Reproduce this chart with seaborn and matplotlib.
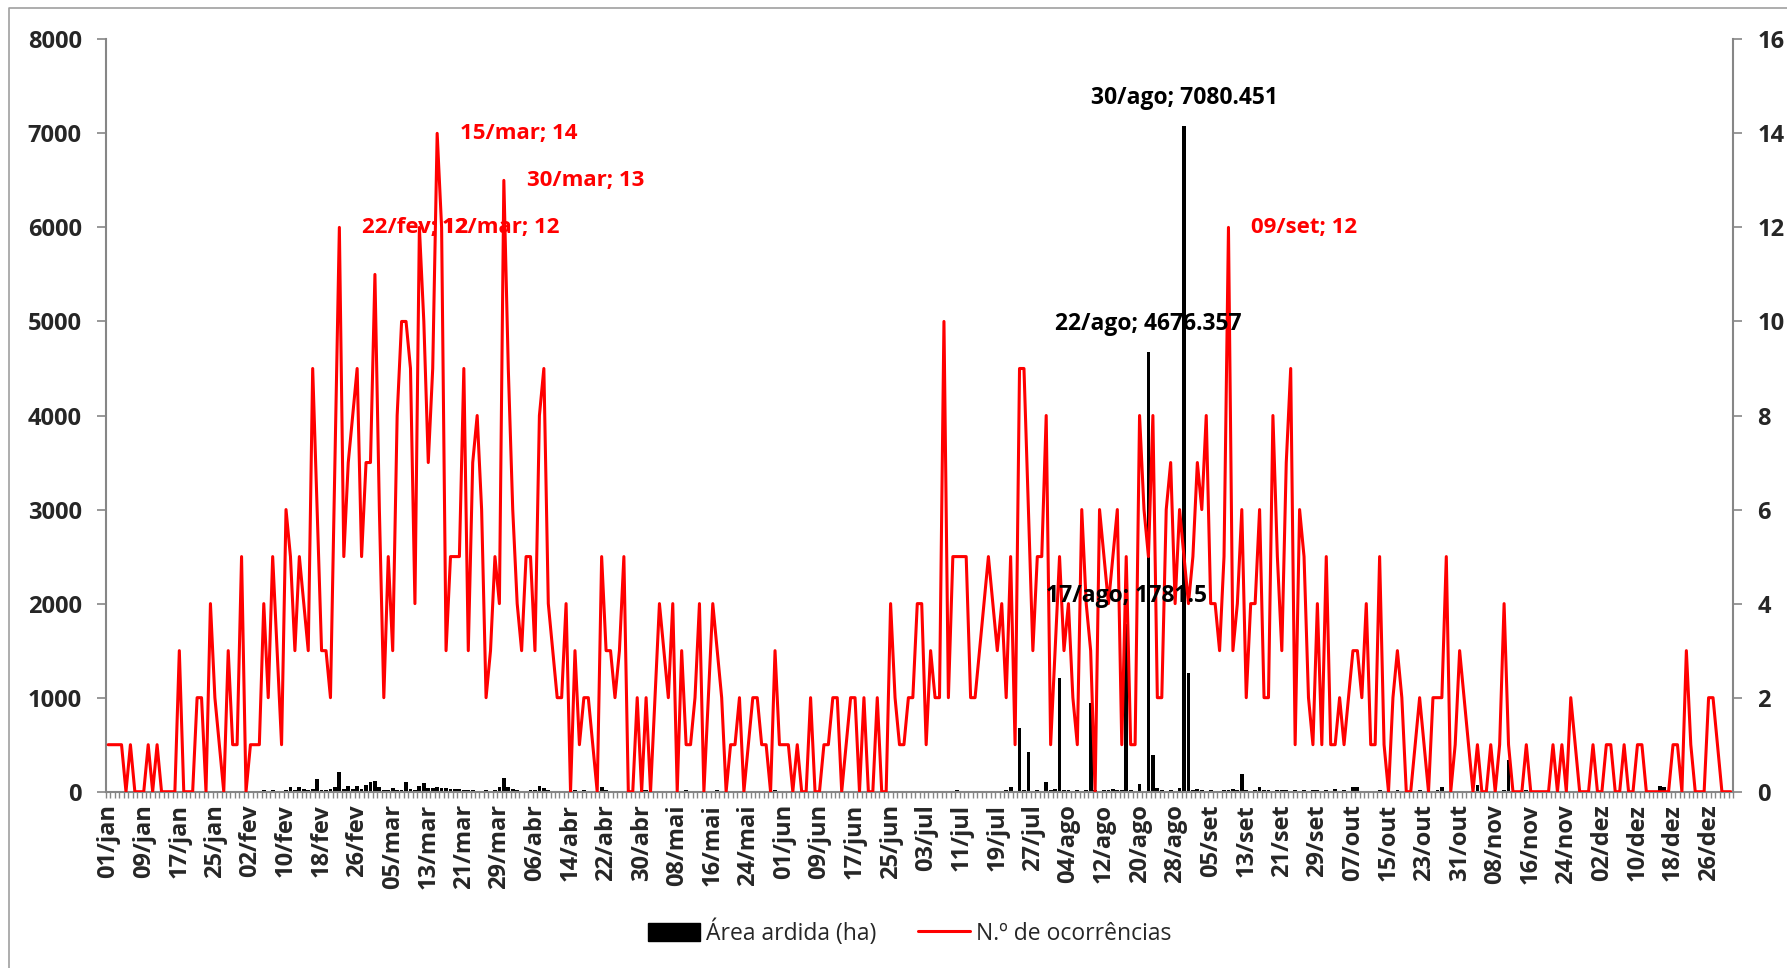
import numpy as np
import pandas as pd
import seaborn as sns
import matplotlib.pyplot as plt
from matplotlib.patches import Patch
from matplotlib.lines import Line2D

### --- Data --- ###
meses = ['jan', 'fev', 'mar', 'abr', 'mai', 'jun', 'jul', 'ago', 'set', 'out', 'nov', 'dez']
dias_mes = [31, 29, 31, 30, 31, 30, 31, 31, 30, 31, 30, 31]

# Área ardida (ha) per day
area_jan = [10, 5, 8, 10, 0, 5, 12, 8, 0, 5, 10, 0, 8, 5, 0, 0, 5, 0, 5, 0, 10, 5, 0, 8, 10, 5, 0, 10, 5, 5, 10]
area_fev = [10, 8, 10, 5, 15, 10, 15, 10, 10, 15, 55, 20, 45, 25, 20, 25, 140, 20, 15, 25, 45, 210, 25, 60, 30, 65, 30, 75, 105]
area_mar = [110, 55, 15, 20, 40, 15, 20, 105, 30, 15, 60, 90, 40, 35, 45, 40, 35, 25, 30, 25, 20, 20, 15, 10, 10, 15, 10, 20, 45, 150, 55]
area_abr = [25, 15, 10, 10, 15, 20, 65, 35, 20, 10, 10, 5, 10, 5, 15, 10, 20, 10, 5, 10, 50, 15, 10, 10, 8, 10, 5, 5, 10, 15]
area_mai = [15, 10, 8, 10, 5, 10, 8, 5, 10, 15, 10, 8, 10, 5, 8, 10, 15, 10, 8, 5, 10, 8, 5, 10, 8, 5, 10, 8, 5, 15, 10]
area_jun = [10, 5, 8, 5, 10, 8, 5, 10, 8, 5, 10, 5, 8, 10, 5, 8, 10, 12, 8, 5, 10, 8, 5, 10, 8, 5, 10, 8, 12, 10]
area_jul = [10, 8, 10, 5, 8, 10, 8, 5, 10, 20, 8, 5, 10, 8, 5, 10, 8, 10, 12, 8, 15, 55, 10, 680, 15, 420, 10, 15, 12, 100, 15]
area_ago = [30, 1210, 20, 15, 10, 15, 10, 20, 945, 15, 10, 15, 20, 30, 15, 20, 1781.5, 15, 10, 80, 10, 4676.357, 390, 35, 15, 10, 15, 10, 40, 7080.451, 1265]
area_set = [20, 25, 15, 10, 15, 10, 10, 15, 20, 25, 15, 185, 15, 10, 15, 45, 20, 15, 10, 15, 20, 15, 10, 15, 10, 15, 10, 20, 15, 10]
area_out = [15, 10, 25, 10, 15, 10, 55, 50, 10, 8, 5, 10, 15, 10, 8, 10, 15, 10, 5, 8, 10, 15, 10, 5, 10, 15, 50, 10, 5, 10, 8]
area_nov = [10, 5, 8, 70, 10, 5, 10, 8, 10, 15, 340, 10, 5, 8, 15, 10, 5, 8, 5, 10, 8, 5, 10, 5, 8, 10, 5, 8, 10, 5]
area_dez = [8, 5, 10, 5, 8, 10, 5, 8, 5, 10, 8, 5, 10, 8, 60, 55, 10, 5, 8, 5, 10, 8, 5, 10, 8, 5, 10, 8, 5, 8, 5]

# N.º de ocorrências per day
ocorr_jan = [1, 1, 1, 1, 0, 1, 0, 0, 0, 1, 0, 1, 0, 0, 0, 0, 3, 0, 0, 0, 2, 2, 0, 4, 2, 1, 0, 3, 1, 1, 5]
ocorr_fev = [0, 1, 1, 1, 4, 2, 5, 3, 1, 6, 5, 3, 5, 4, 3, 9, 6, 3, 3, 2, 7, 12, 5, 7, 8, 9, 5, 7, 7]
ocorr_mar = [11, 6, 2, 5, 3, 8, 10, 10, 9, 4, 12, 10, 7, 9, 14, 12, 3, 5, 5, 5, 9, 3, 7, 8, 6, 2, 3, 5, 4, 13, 9]
ocorr_abr = [6, 4, 3, 5, 5, 3, 8, 9, 4, 3, 2, 2, 4, 0, 3, 1, 2, 2, 1, 0, 5, 3, 3, 2, 3, 5, 0, 0, 2, 0]
ocorr_mai = [2, 0, 2, 4, 3, 2, 4, 0, 3, 1, 1, 2, 4, 0, 2, 4, 3, 2, 0, 1, 1, 2, 0, 1, 2, 2, 1, 1, 0, 3, 1]
ocorr_jun = [1, 1, 0, 1, 0, 0, 2, 0, 0, 1, 1, 2, 2, 0, 1, 2, 2, 0, 2, 0, 0, 2, 0, 0, 4, 2, 1, 1, 2, 2]
ocorr_jul = [4, 4, 1, 3, 2, 2, 10, 2, 5, 5, 5, 5, 2, 2, 3, 4, 5, 4, 3, 4, 2, 5, 1, 9, 9, 6, 3, 5, 5, 8, 1]
ocorr_ago = [3, 5, 3, 4, 2, 1, 6, 4, 3, 0, 6, 5, 4, 5, 6, 1, 5, 1, 1, 8, 6, 5, 8, 2, 2, 6, 7, 4, 6, 5, 4]
ocorr_set = [5, 7, 6, 8, 4, 4, 3, 5, 12, 3, 4, 6, 2, 4, 4, 6, 2, 2, 8, 5, 3, 7, 9, 1, 6, 5, 2, 1, 4, 1]
ocorr_out = [5, 1, 1, 2, 1, 2, 3, 3, 2, 4, 1, 1, 5, 1, 0, 2, 3, 2, 0, 0, 1, 2, 1, 0, 2, 2, 2, 5, 0, 1, 3]
ocorr_nov = [2, 1, 0, 1, 0, 0, 1, 0, 1, 4, 1, 0, 0, 0, 1, 0, 0, 0, 0, 0, 1, 0, 1, 0, 2, 1, 0, 0, 0, 1]
ocorr_dez = [0, 0, 1, 1, 0, 0, 1, 0, 0, 1, 1, 0, 0, 0, 0, 0, 0, 1, 1, 0, 3, 1, 0, 0, 0, 2, 2, 1, 0, 0, 0]

# data labels (day index, value, text)
labels_ocorr = [(52, 12, "22/fev; 12"), (70, 12, "12/mar; 12"), (74, 14, "15/mar; 14"),
                (89, 13, "30/mar; 13"), (252, 12, "09/set; 12")]
labels_area = [(229, 1781.5, "17/ago; 1781.5"), (234, 4676.357, "22/ago; 4676.357"),
               (242, 7080.451, "30/ago; 7080.451")]

area = area_jan + area_fev + area_mar + area_abr + area_mai + area_jun + area_jul + area_ago + area_set + area_out + area_nov + area_dez
ocorr = ocorr_jan + ocorr_fev + ocorr_mar + ocorr_abr + ocorr_mai + ocorr_jun + ocorr_jul + ocorr_ago + ocorr_set + ocorr_out + ocorr_nov + ocorr_dez
dias = [f"{d:02d}/{m}" for m, n in zip(meses, dias_mes) for d in range(1, n + 1)]

df = pd.DataFrame({"dia": dias, "area": area, "ocorr": ocorr, "pos": range(len(dias))})

### --- Plot --- ###
sns.set_theme(style="white")
plt.rcParams['font.family'] = ['Open Sans', 'DejaVu Sans']
plt.rcParams['font.weight'] = 'bold'
GREY = '#868686'

fig = plt.figure(figsize=(17.87, 9.68), dpi=100)
ax = fig.add_axes([0.0593, 0.1821, 0.9105, 0.7773])

sns.barplot(data=df, x="dia", y="area", order=dias, color="black", saturation=1,
            width=0.85, errorbar=None, edgecolor="black", linewidth=0, ax=ax)
ax2 = ax.twinx()
sns.lineplot(data=df, x="pos", y="ocorr", color="#FF0000", linewidth=2.2, ax=ax2)

ax.set_xlim(-0.5, len(dias) - 0.5)
ax2.set_xlim(-0.5, len(dias) - 0.5)
ax.set_ylim(0, 8000)
ax2.set_ylim(0, 16)
ax.set_yticks(range(0, 8001, 1000))
ax2.set_yticks(range(0, 17, 2))
ax.set_xlabel("")
ax.set_ylabel("")
ax2.set_xlabel("")
ax2.set_ylabel("")

# x ticks: label every 8 days, small tick at every category boundary
ax.set_xticks(range(0, len(dias), 8))
ax.set_xticklabels(dias[::8], rotation=90, fontsize=17, fontweight='bold', va='top')
ax.set_xticks(np.arange(-0.5, len(dias), 1), minor=True)
ax.tick_params(axis='x', which='major', length=0, pad=9)
ax.tick_params(axis='x', which='minor', length=4.5, width=1, color=GREY, direction='out', bottom=True)
ax.tick_params(axis='y', length=6.5, width=1.2, color=GREY, direction='out', pad=11, labelsize=17, left=True)
ax2.tick_params(axis='y', length=6.5, width=1.2, color=GREY, direction='out', pad=11, labelsize=17, right=True)

for s in ['top', 'right']:
    ax.spines[s].set_visible(False)
for s in ['top', 'left', 'bottom']:
    ax2.spines[s].set_visible(False)
for sp in [ax.spines['left'], ax.spines['bottom'], ax2.spines['right']]:
    sp.set_color(GREY)
    sp.set_linewidth(1.5)

# data labels
for i, v, txt in labels_ocorr:
    ax2.annotate(txt, xy=(i, v), xytext=(16.5, 0), textcoords='offset points',
                 ha='left', va='center', color='#FF0000', fontsize=16, fontweight='bold')
for i, v, txt in labels_area:
    ax2.annotate(txt, xy=(i, v), xycoords=ax.transData, xytext=(0, 20), textcoords='offset points',
                 ha='center', va='center', color='black', fontsize=16.5, fontweight='bold')

# legend
handles = [Patch(facecolor='black', edgecolor='black'),
           Line2D([], [], color='#FF0000', lw=2.2)]
fig.legend(handles, ["Área ardida (ha)", "N.º de ocorrências"], loc='center',
           bbox_to_anchor=(0.509, 0.0367), ncol=2, frameon=False, handlelength=2.3,
           handleheight=0.8, handletextpad=0.25, columnspacing=1.8,
           prop={'size': 16.5, 'weight': 'normal'})

# outer chart frame
fig.add_artist(Line2D([0.0052, 0.0052, 1.0], [0.0, 0.9914, 0.9914], transform=fig.transFigure,
                      color='#a0a0a0', lw=1.2))

fig.savefig("out.png", dpi=100, facecolor='white')
